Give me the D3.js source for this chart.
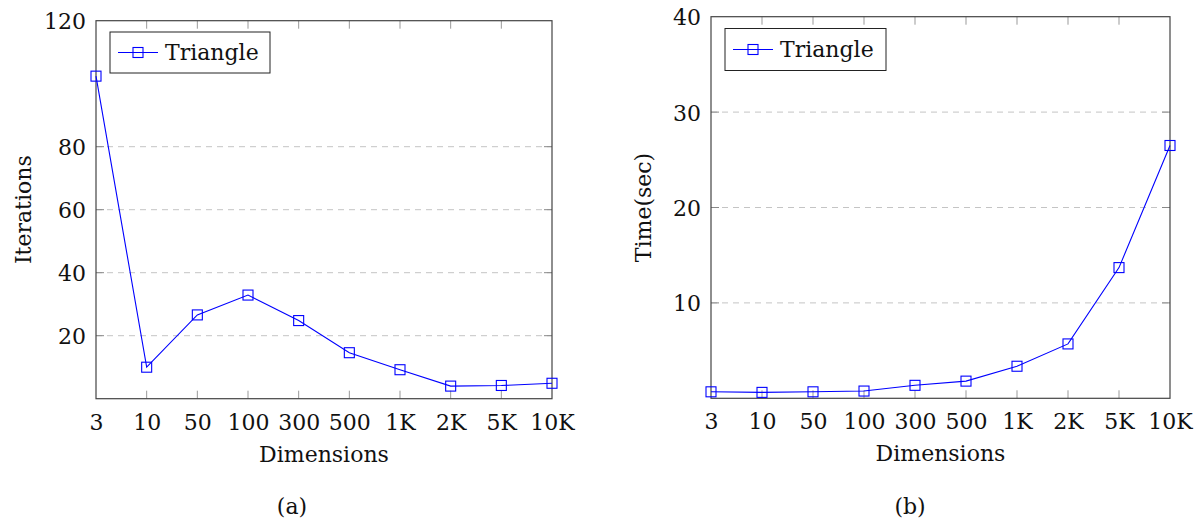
<!DOCTYPE html>
<html>
<head>
<meta charset="utf-8">
<script src="https://cdn.jsdelivr.net/npm/d3@7"></script>
<style>
  html, body { margin: 0; padding: 0; background: #fff; }
  svg { display: block; font-family: 'DejaVu Serif', 'Liberation Serif', serif; }
  svg text { font-family: 'DejaVu Serif', 'Liberation Serif', serif !important; fill: #111; }
</style>
</head>
<body>
<svg id="chart" width="1197" height="523"></svg>
<script>
// ---- data ----
const dimensions = ["3", "10", "50", "100", "300", "500", "1K", "2K", "5K", "10K"];
const iterations = [102.4, 10.0, 26.6, 32.9, 24.8, 14.6, 9.2, 4.0, 4.2, 4.9];
const timeSec = [0.68, 0.62, 0.68, 0.76, 1.36, 1.8, 3.36, 5.7, 13.7, 26.5];
const iterTicks = [20, 40, 60, 80, 120];
const iterGrid = [20, 40, 60, 80];
const timeTicks = [10, 20, 30, 40];
const timeGrid = [10, 20, 30];
const seriesName = "Triangle";
const yTitles = ["Iterations", "Time(sec)"];
const xTitle = "Dimensions";
const captions = ["(a)", "(b)"];

const svg = d3.select("#chart");
const FS = 22;
const FF = "'DejaVu Serif', 'Liberation Serif', serif";

function panel(opt) {
  const g = svg.append("g");
  const x = d3.scalePoint().domain(dimensions).range([opt.x0, opt.x1]).padding(0);
  const y = d3.scaleLinear().domain(opt.domain).range([opt.y1, opt.y0]);

  // grid
  g.append("g").selectAll("line").data(opt.grid).join("line")
    .attr("x1", opt.x0).attr("x2", opt.x1)
    .attr("y1", d => y(d)).attr("y2", d => y(d))
    .attr("stroke", "#c4c4c4").attr("stroke-width", 1)
    .attr("stroke-dasharray", "6,5");

  // inner ticks
  const tl = 8;
  g.append("g").selectAll("line").data(dimensions.slice(1, -1)).join("line")
    .attr("x1", d => x(d)).attr("x2", d => x(d))
    .attr("y1", opt.y1).attr("y2", opt.y1 - tl)
    .attr("stroke", "#999").attr("stroke-width", 1);
  g.append("g").selectAll("line").data(dimensions.slice(1, -1)).join("line")
    .attr("x1", d => x(d)).attr("x2", d => x(d))
    .attr("y1", opt.y0).attr("y2", opt.y0 + tl)
    .attr("stroke", "#999").attr("stroke-width", 1);
  g.append("g").selectAll("line").data(opt.grid).join("line")
    .attr("x1", opt.x0).attr("x2", opt.x0 + tl)
    .attr("y1", d => y(d)).attr("y2", d => y(d))
    .attr("stroke", "#888").attr("stroke-width", 1);
  g.append("g").selectAll("line").data(opt.grid).join("line")
    .attr("x1", opt.x1).attr("x2", opt.x1 - tl)
    .attr("y1", d => y(d)).attr("y2", d => y(d))
    .attr("stroke", "#888").attr("stroke-width", 1);

  // frame
  g.append("rect")
    .attr("x", opt.x0).attr("y", opt.y0)
    .attr("width", opt.x1 - opt.x0).attr("height", opt.y1 - opt.y0)
    .attr("fill", "none").attr("stroke", "#444").attr("stroke-width", 1.2);

  // tick labels via d3 axes
  const xAxis = d3.axisBottom(x).tickSize(0).tickPadding(0);
  const gx = g.append("g").attr("transform", `translate(0,${opt.y1 + 31})`).call(xAxis);
  gx.attr("font-family", FF);
  gx.select(".domain").remove();
  gx.selectAll("text").attr("font-size", FS).attr("dy", 0).attr("fill", "#111");

  const yAxis = d3.axisLeft(y).tickValues(opt.ticks).tickSize(0).tickPadding(0);
  const gy = g.append("g").attr("transform", `translate(${opt.x0 - 10},0)`).call(yAxis);
  gy.attr("font-family", FF);
  gy.select(".domain").remove();
  gy.selectAll("text").attr("font-size", FS).attr("dy", "0.36em").attr("fill", "#111");

  // series
  const line = d3.line().x((d, i) => x(dimensions[i])).y(d => y(d));
  g.append("path").datum(opt.values)
    .attr("d", line).attr("fill", "none")
    .attr("stroke", "#0000ff").attr("stroke-width", 1.1);
  const ms = 10;
  g.append("g").selectAll("rect").data(opt.values).join("rect")
    .attr("x", (d, i) => x(dimensions[i]) - ms / 2)
    .attr("y", d => y(d) - ms / 2)
    .attr("width", ms).attr("height", ms)
    .attr("fill", "none").attr("stroke", "#0000ff").attr("stroke-width", 1.1);

  // legend
  const L = opt.legend;
  g.append("rect").attr("x", L.x).attr("y", L.y).attr("width", L.w).attr("height", L.h)
    .attr("fill", "#fff").attr("stroke", "#222").attr("stroke-width", 1);
  const cy = L.y + L.h / 2;
  g.append("line").attr("x1", L.x + 8).attr("x2", L.x + 48).attr("y1", cy).attr("y2", cy)
    .attr("stroke", "#0000ff").attr("stroke-width", 1.1);
  g.append("rect").attr("x", L.x + 28 - ms / 2).attr("y", cy - ms / 2)
    .attr("width", ms).attr("height", ms)
    .attr("fill", "none").attr("stroke", "#0000ff").attr("stroke-width", 1.1);
  g.append("text").attr("x", L.x + 55).attr("y", cy).attr("dy", "0.36em")
    .attr("font-size", FS).text(seriesName);

  // titles
  g.append("text").attr("x", (opt.x0 + opt.x1) / 2).attr("y", opt.y1 + 63)
    .attr("text-anchor", "middle").attr("font-size", FS).text(xTitle);
  g.append("text")
    .attr("transform", `translate(${opt.yTitleX},${(opt.y0 + opt.y1) / 2}) rotate(-90)`)
    .attr("text-anchor", "middle").attr("font-size", FS).text(opt.yTitle);
  g.append("text").attr("x", opt.capX).attr("y", 514)
    .attr("text-anchor", "middle").attr("font-size", FS).text(opt.caption);
}

panel({
  x0: 96, x1: 552, y0: 20.7, y1: 398.7,
  domain: [0, 120], ticks: iterTicks, grid: iterGrid, values: iterations,
  legend: { x: 110, y: 32, w: 160, h: 41 },
  yTitle: yTitles[0], yTitleX: 31, caption: captions[0], capX: 292
});
panel({
  x0: 711, x1: 1170, y0: 16.7, y1: 398.3,
  domain: [0, 40], ticks: timeTicks, grid: timeGrid, values: timeSec,
  legend: { x: 725, y: 28.5, w: 161, h: 42 },
  yTitle: yTitles[1], yTitleX: 651, caption: captions[1], capX: 910
});
</script>
</body>
</html>
